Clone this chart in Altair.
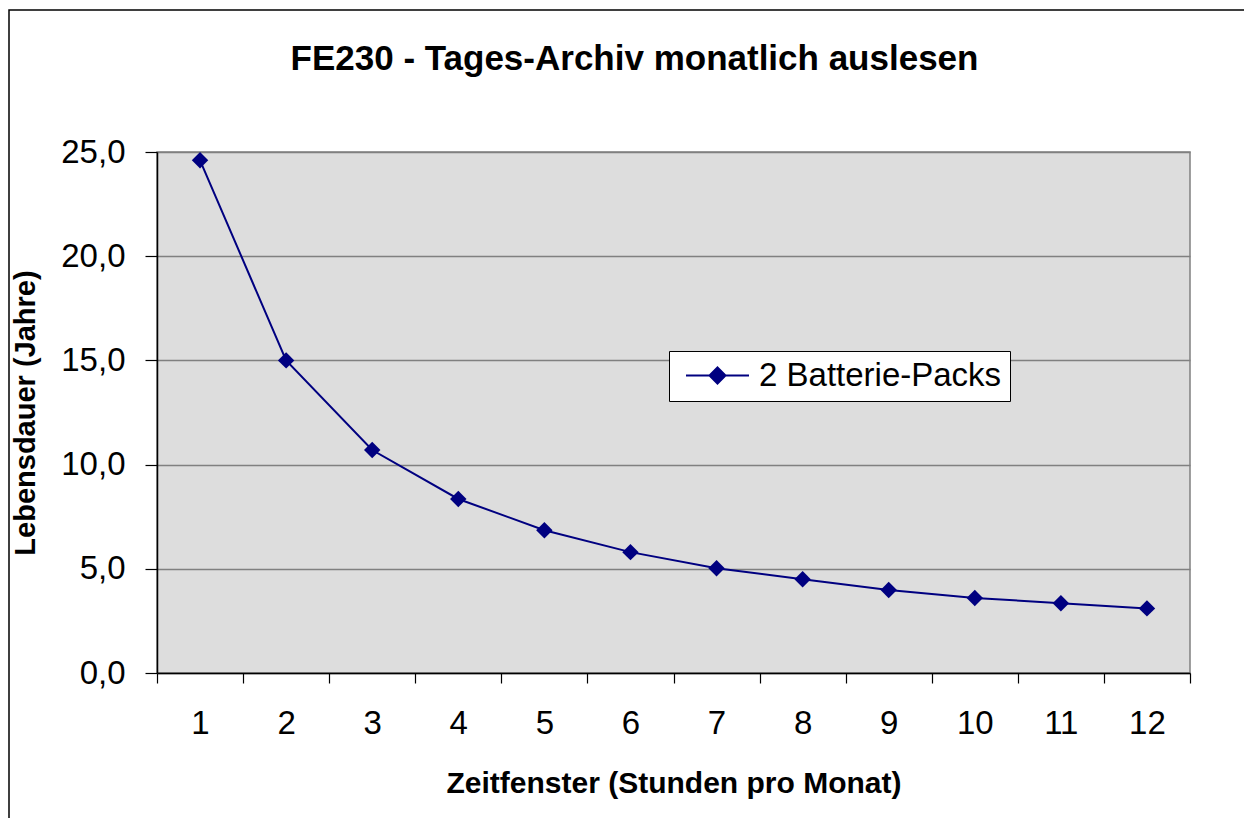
import altair as alt
import pandas as pd

# Data
stunden = [1, 2, 3, 4, 5, 6, 7, 8, 9, 10, 11, 12]
lebensdauer = [24.6, 15.0, 10.7, 8.35, 6.85, 5.8, 5.03, 4.5, 3.98, 3.6, 3.35, 3.1]
serie = "2 Batterie-Packs"
x_tick_bounds = [0.5, 1.5, 2.5, 3.5, 4.5, 5.5, 6.5, 7.5, 8.5, 9.5, 10.5, 11.5, 12.5]
y_ticks = [0, 5, 10, 15, 20, 25]

df = pd.DataFrame({"stunden": stunden, "jahre": lebensdauer, "serie": [serie] * len(stunden)})

FONT = "Liberation Sans"
NAVY = "#000080"

x_enc = alt.X(
    "stunden:Q",
    scale=alt.Scale(domain=[0.5, 12.5], nice=False, zero=False),
    axis=alt.Axis(
        values=x_tick_bounds,
        labelExpr="datum.value < 12 ? toString(datum.value + 0.5) : ''",
        labelOffset=43,
        labelFontSize=33,
        labelFont=FONT,
        labelColor="black",
        labelPadding=24,
        labelOverlap=False,
        labelBound=False,
        labelFlush=False,
        tickSize=10,
        tickColor="black",
        tickWidth=1.2,
        domainColor="black",
        domainWidth=1.5,
        grid=False,
        title="Zeitfenster (Stunden pro Monat)",
        titleFont=FONT,
        titleFontSize=30,
        titleFontWeight="bold",
        titleColor="black",
        titlePadding=28,
    ),
)

y_enc = alt.Y(
    "jahre:Q",
    scale=alt.Scale(domain=[0, 25], nice=False),
    axis=alt.Axis(
        values=y_ticks,
        labelExpr="replace(format(datum.value, '.1f'), '.', ',')",
        labelFontSize=33,
        labelFont=FONT,
        labelColor="black",
        labelPadding=20,
        tickSize=12,
        tickColor="black",
        tickWidth=1.2,
        domainColor="black",
        domainWidth=1.5,
        grid=True,
        gridColor="#808080",
        gridWidth=1.5,
        title="Lebensdauer (Jahre)",
        titleFont=FONT,
        titleFontSize=29,
        titleFontWeight="bold",
        titleColor="black",
        titlePadding=20,
    ),
)

color_enc = alt.Color(
    "serie:N",
    scale=alt.Scale(domain=[serie], range=[NAVY]),
    legend=alt.Legend(
        title=None,
        orient="none",
        legendX=512,
        legendY=199,
        fillColor="white",
        strokeColor="black",
        padding=8,
        labelFont=FONT,
        labelFontSize=33,
        labelColor="black",
        labelLimit=600,
        symbolType="M-3.15,0L3.15,0M0,-0.8L0.8,0L0,0.8L-0.8,0Z",
        symbolSize=400,
        symbolStrokeWidth=2,
        symbolFillColor=NAVY,
        symbolStrokeColor=NAVY,
        symbolOffset=24,
        labelOffset=25,
    ),
)

base = alt.Chart(df)
line = base.mark_line(strokeWidth=2).encode(x=x_enc, y=y_enc, color=color_enc)
points = base.mark_point(shape="diamond", filled=True, size=270, opacity=1).encode(
    x=x_enc, y=y_enc, color=color_enc
)

border = alt.Chart(pd.DataFrame({"a": [0]})).mark_rect(
    fill=None, stroke="black", strokeWidth=1.5
).encode(
    x=alt.value(-148), x2=alt.value(1100), y=alt.value(-142), y2=alt.value(700)
)

chart = (
    alt.layer(border, line, points)
    .properties(
        width=1033,
        height=521,
        padding={"left": 149, "top": 144, "right": 54, "bottom": 145},
        autosize=alt.AutoSizeParams(type="none"),
        background="white",
        title=alt.Title(
            "FE230 - Tages-Archiv monatlich auslesen",
            font=FONT,
            fontSize=35,
            fontWeight="bold",
            color="black",
            anchor="middle",
            baseline="alphabetic",
            dx=-39,
            offset=-96,
        ),
    )
    .configure_view(fill="#DDDDDD", stroke="#808080", strokeWidth=1.5)
)

chart.save("out.html", embed_options={"renderer": "svg", "actions": False})
